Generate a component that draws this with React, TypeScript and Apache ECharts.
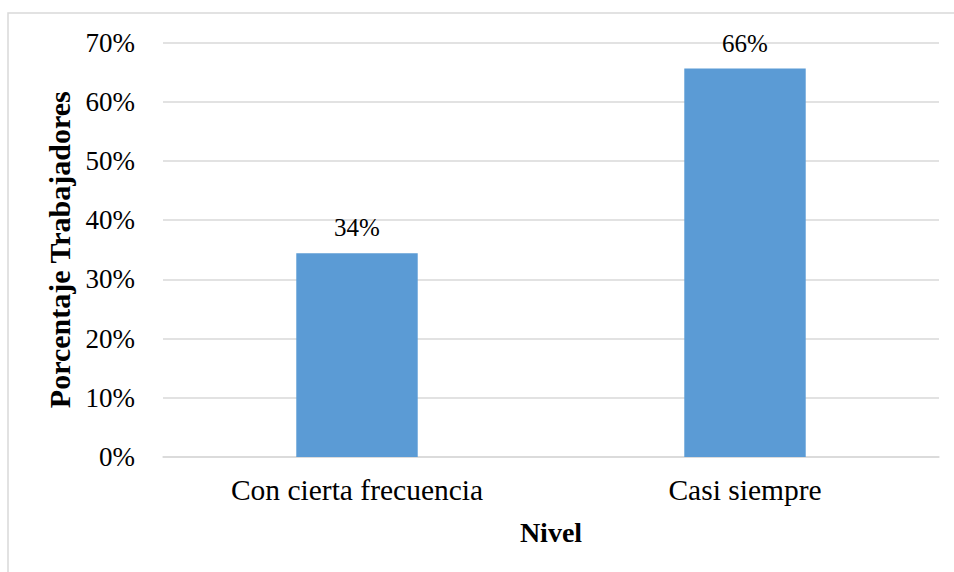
import React, { useEffect, useRef } from "react";
import * as echarts from "echarts";

const categories = ["Con cierta frecuencia", "Casi siempre"];
const values = [34.4, 65.6];
const yTicks = [0, 10, 20, 30, 40, 50, 60, 70];

export default function App() {
  const ref = useRef<HTMLDivElement>(null);
  useEffect(() => {
    if (!ref.current) return;
    const chart = echarts.init(ref.current, null, { renderer: "svg" });
    const font = "Liberation Serif";
    chart.setOption({
      animation: false,
      backgroundColor: "#ffffff",
      textStyle: { fontFamily: font },
      graphic: [
        {
          type: "rect",
          shape: { x: 8, y: 13, width: 960, height: 580 },
          style: { fill: "none", stroke: "#d9d9d9", lineWidth: 1.5 },
          silent: true,
        },
      ],
      grid: { left: 163, right: 15, top: 42.5, bottom: 115, containLabel: false },
      xAxis: {
        type: "category",
        data: categories,
        name: "Nivel",
        nameLocation: "middle",
        nameGap: 61,
        nameTextStyle: { fontFamily: font, fontSize: 28, fontWeight: "bold", color: "#000" },
        axisLine: { lineStyle: { color: "#d9d9d9", width: 1.5 } },
        axisTick: { show: false },
        axisLabel: { fontFamily: font, fontSize: 29.5, color: "#000", margin: 18 },
      },
      yAxis: {
        type: "value",
        min: yTicks[0],
        max: yTicks[yTicks.length - 1],
        interval: 10,
        name: "Porcentaje Trabajadores",
        nameLocation: "middle",
        nameGap: 86,
        nameRotate: 90,
        nameTextStyle: { fontFamily: font, fontSize: 30, fontWeight: "bold", color: "#000" },
        axisLine: { show: false },
        axisTick: { show: false },
        splitLine: { lineStyle: { color: "#d9d9d9", width: 1.5 } },
        axisLabel: {
          fontFamily: font,
          fontSize: 27,
          color: "#000",
          margin: 28,
          formatter: (v: number) => `${v}%`,
        },
      },
      series: [
        {
          type: "bar",
          data: values,
          barWidth: "31.3%",
          itemStyle: { color: "#5b9bd5" },
          label: {
            show: true,
            position: "top",
            distance: 13,
            fontFamily: font,
            fontSize: 25,
            color: "#000",
            formatter: (p: any) => `${Math.round(p.value)}%`,
          },
        },
      ],
    });
    return () => chart.dispose();
  }, []);
  return <div ref={ref} style={{ width: 954, height: 572, position: "fixed", left: 0, top: 0 }} />;
}
